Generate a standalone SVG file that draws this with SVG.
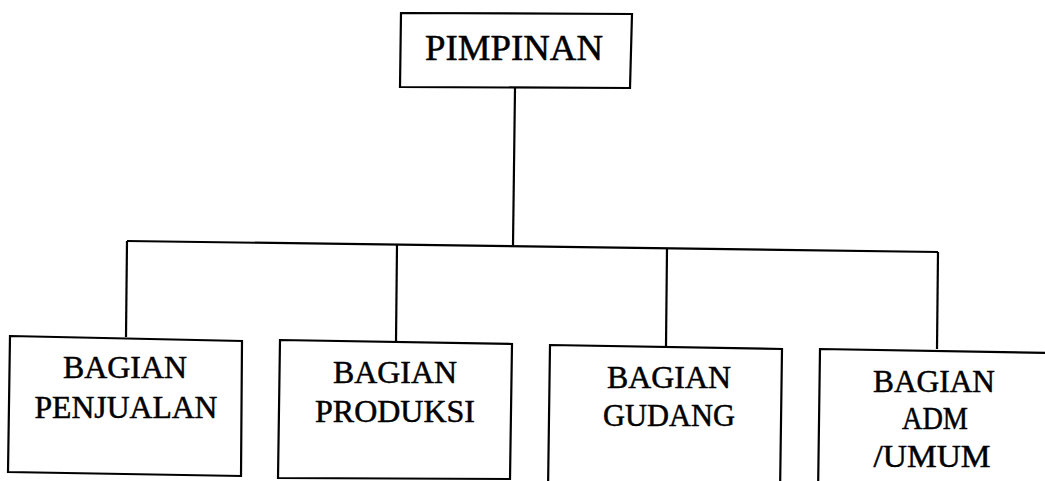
<svg xmlns="http://www.w3.org/2000/svg" width="1045" height="481" viewBox="0 0 1045 481">
<style>
.box{fill:#fff;stroke:#000;stroke-width:2.2;stroke-linejoin:miter}
.con{fill:none;stroke:#000;stroke-width:2.2}
text{font-family:"Liberation Serif","Times New Roman",serif;fill:#000;stroke:#000;stroke-width:0.5;text-anchor:middle}
.t{font-size:36px}
.s{font-size:31px}
</style>
<rect width="1045" height="481" fill="#fff"/>
<g id="connectors">
<line class="con" x1="515" y1="88" x2="513" y2="245"/>
<line class="con" x1="127" y1="241" x2="938" y2="252"/>
<line class="con" x1="127" y1="241" x2="126" y2="337"/>
<line class="con" x1="397" y1="245" x2="396" y2="341"/>
<line class="con" x1="667" y1="249" x2="666" y2="346"/>
<line class="con" x1="938" y1="252" x2="937" y2="349"/>
</g>
<g id="pimpinan">
<polygon class="box" points="401,13 632,14 630,88 400,87"/>
<text class="t" x="514" y="60" textLength="178" lengthAdjust="spacingAndGlyphs">PIMPINAN</text>
</g>
<g id="penjualan">
<polygon class="box" points="10,336 242,341 241,476 8,472"/>
<text class="s" x="125" y="378" textLength="124" lengthAdjust="spacingAndGlyphs">BAGIAN</text>
<text class="s" x="126" y="418" textLength="183" lengthAdjust="spacingAndGlyphs">PENJUALAN</text>
</g>
<g id="produksi">
<polygon class="box" points="280,340 512,344 510,479 278,478"/>
<text class="s" x="395" y="383" textLength="124" lengthAdjust="spacingAndGlyphs">BAGIAN</text>
<text class="s" x="395" y="422" textLength="160" lengthAdjust="spacingAndGlyphs">PRODUKSI</text>
</g>
<g id="gudang">
<polygon class="box" points="550,345 782,349 780,495 548,492"/>
<text class="s" x="669" y="388" textLength="124" lengthAdjust="spacingAndGlyphs">BAGIAN</text>
<text class="s" x="669" y="426" textLength="132" lengthAdjust="spacingAndGlyphs">GUDANG</text>
</g>
<g id="adm">
<polygon class="box" points="820,349 1050,353 1050,500 818,497"/>
<text class="s" x="934" y="392" textLength="122" lengthAdjust="spacingAndGlyphs">BAGIAN</text>
<text class="s" x="935" y="429" textLength="66" lengthAdjust="spacingAndGlyphs">ADM</text>
<text class="s" x="932" y="467" textLength="117" lengthAdjust="spacingAndGlyphs">/UMUM</text>
</g>
</svg>
